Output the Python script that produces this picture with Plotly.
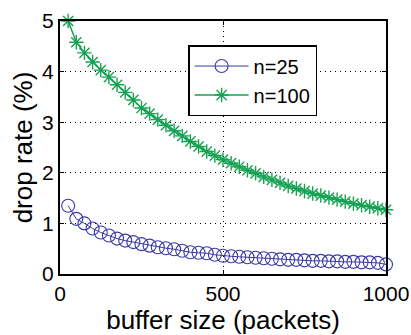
import plotly.graph_objects as go

buffer_size = [25, 50, 75, 100, 125, 150, 175, 200, 225, 250,
               275, 300, 325, 350, 375, 400, 425, 450, 475, 500,
               525, 550, 575, 600, 625, 650, 675, 700, 725, 750,
               775, 800, 825, 850, 875, 900, 925, 950, 975, 1000]

drop_n25 = [1.35, 1.09, 1.00, 0.90, 0.82, 0.76, 0.70, 0.66, 0.63, 0.59,
            0.56, 0.53, 0.51, 0.49, 0.46, 0.43, 0.42, 0.41, 0.38, 0.36,
            0.35, 0.34, 0.33, 0.32, 0.31, 0.30, 0.29, 0.28, 0.28, 0.27,
            0.26, 0.26, 0.25, 0.25, 0.24, 0.24, 0.23, 0.23, 0.22, 0.19]

drop_n100 = [5.00, 4.58, 4.37, 4.19, 4.03, 3.89, 3.74, 3.59, 3.44, 3.28,
             3.17, 3.05, 2.94, 2.83, 2.73, 2.62, 2.52, 2.42, 2.34, 2.26,
             2.19, 2.12, 2.05, 1.99, 1.92, 1.86, 1.80, 1.74, 1.69, 1.64,
             1.59, 1.55, 1.51, 1.47, 1.43, 1.39, 1.36, 1.33, 1.30, 1.27]

x_ticks = [0, 500, 1000]
y_ticks = [0, 1, 2, 3, 4, 5]

BLUE = "#3a3aa6"
GREEN = "#16a253"
FONT = "Liberation Sans, Arial, sans-serif"

fig = go.Figure()
fig.add_trace(go.Scatter(
    x=buffer_size, y=drop_n25, name="n=25", mode="lines+markers",
    line=dict(color=BLUE, width=1),
    marker=dict(symbol="circle-open", size=13, color=BLUE, line=dict(width=1.1, color=BLUE)),
    cliponaxis=False,
))
fig.add_trace(go.Scatter(
    x=buffer_size, y=drop_n100, name="n=100", mode="lines+markers",
    line=dict(color=GREEN, width=1.5),
    marker=dict(symbol="asterisk-open", size=12, color=GREEN, line=dict(width=1.4, color=GREEN)),
    cliponaxis=False,
))

axis_common = dict(
    showline=True, linecolor="black", linewidth=2, mirror="ticks",
    ticks="inside", ticklen=4, tickcolor="black", tickwidth=1,
    showgrid=True, gridcolor="black", gridwidth=1, griddash="1px,4px",
    zeroline=False, automargin=False,
    tickfont=dict(family=FONT, size=21, color="black"),
)

fig.update_xaxes(
    range=[0, 1000], tickvals=x_ticks, ticktext=[str(v) for v in x_ticks],
    title=dict(text="buffer size (packets)", font=dict(family=FONT, size=26, color="black"), standoff=0),
    **axis_common,
)
fig.update_yaxes(
    range=[0, 5], tickvals=y_ticks, ticktext=[str(v) for v in y_ticks],
    title=dict(text="drop rate (%)", font=dict(family=FONT, size=26, color="black"), standoff=2),
    **axis_common,
)

fig.update_layout(
    width=411, height=335,
    margin=dict(l=60, r=25, t=21, b=61),
    paper_bgcolor="white", plot_bgcolor="white",
    showlegend=True,
    legend=dict(
        x=0.393, y=0.905, xanchor="left", yanchor="top",
        bgcolor="white", bordercolor="black", borderwidth=1.5,
        font=dict(family=FONT, size=20, color="black"),
        itemwidth=54, tracegroupgap=0,
    ),
)

fig.write_html(
    "out.html",
    config={"displayModeBar": False},
    post_script="document.body.style.margin='0';document.body.style.overflow='hidden';",
)
